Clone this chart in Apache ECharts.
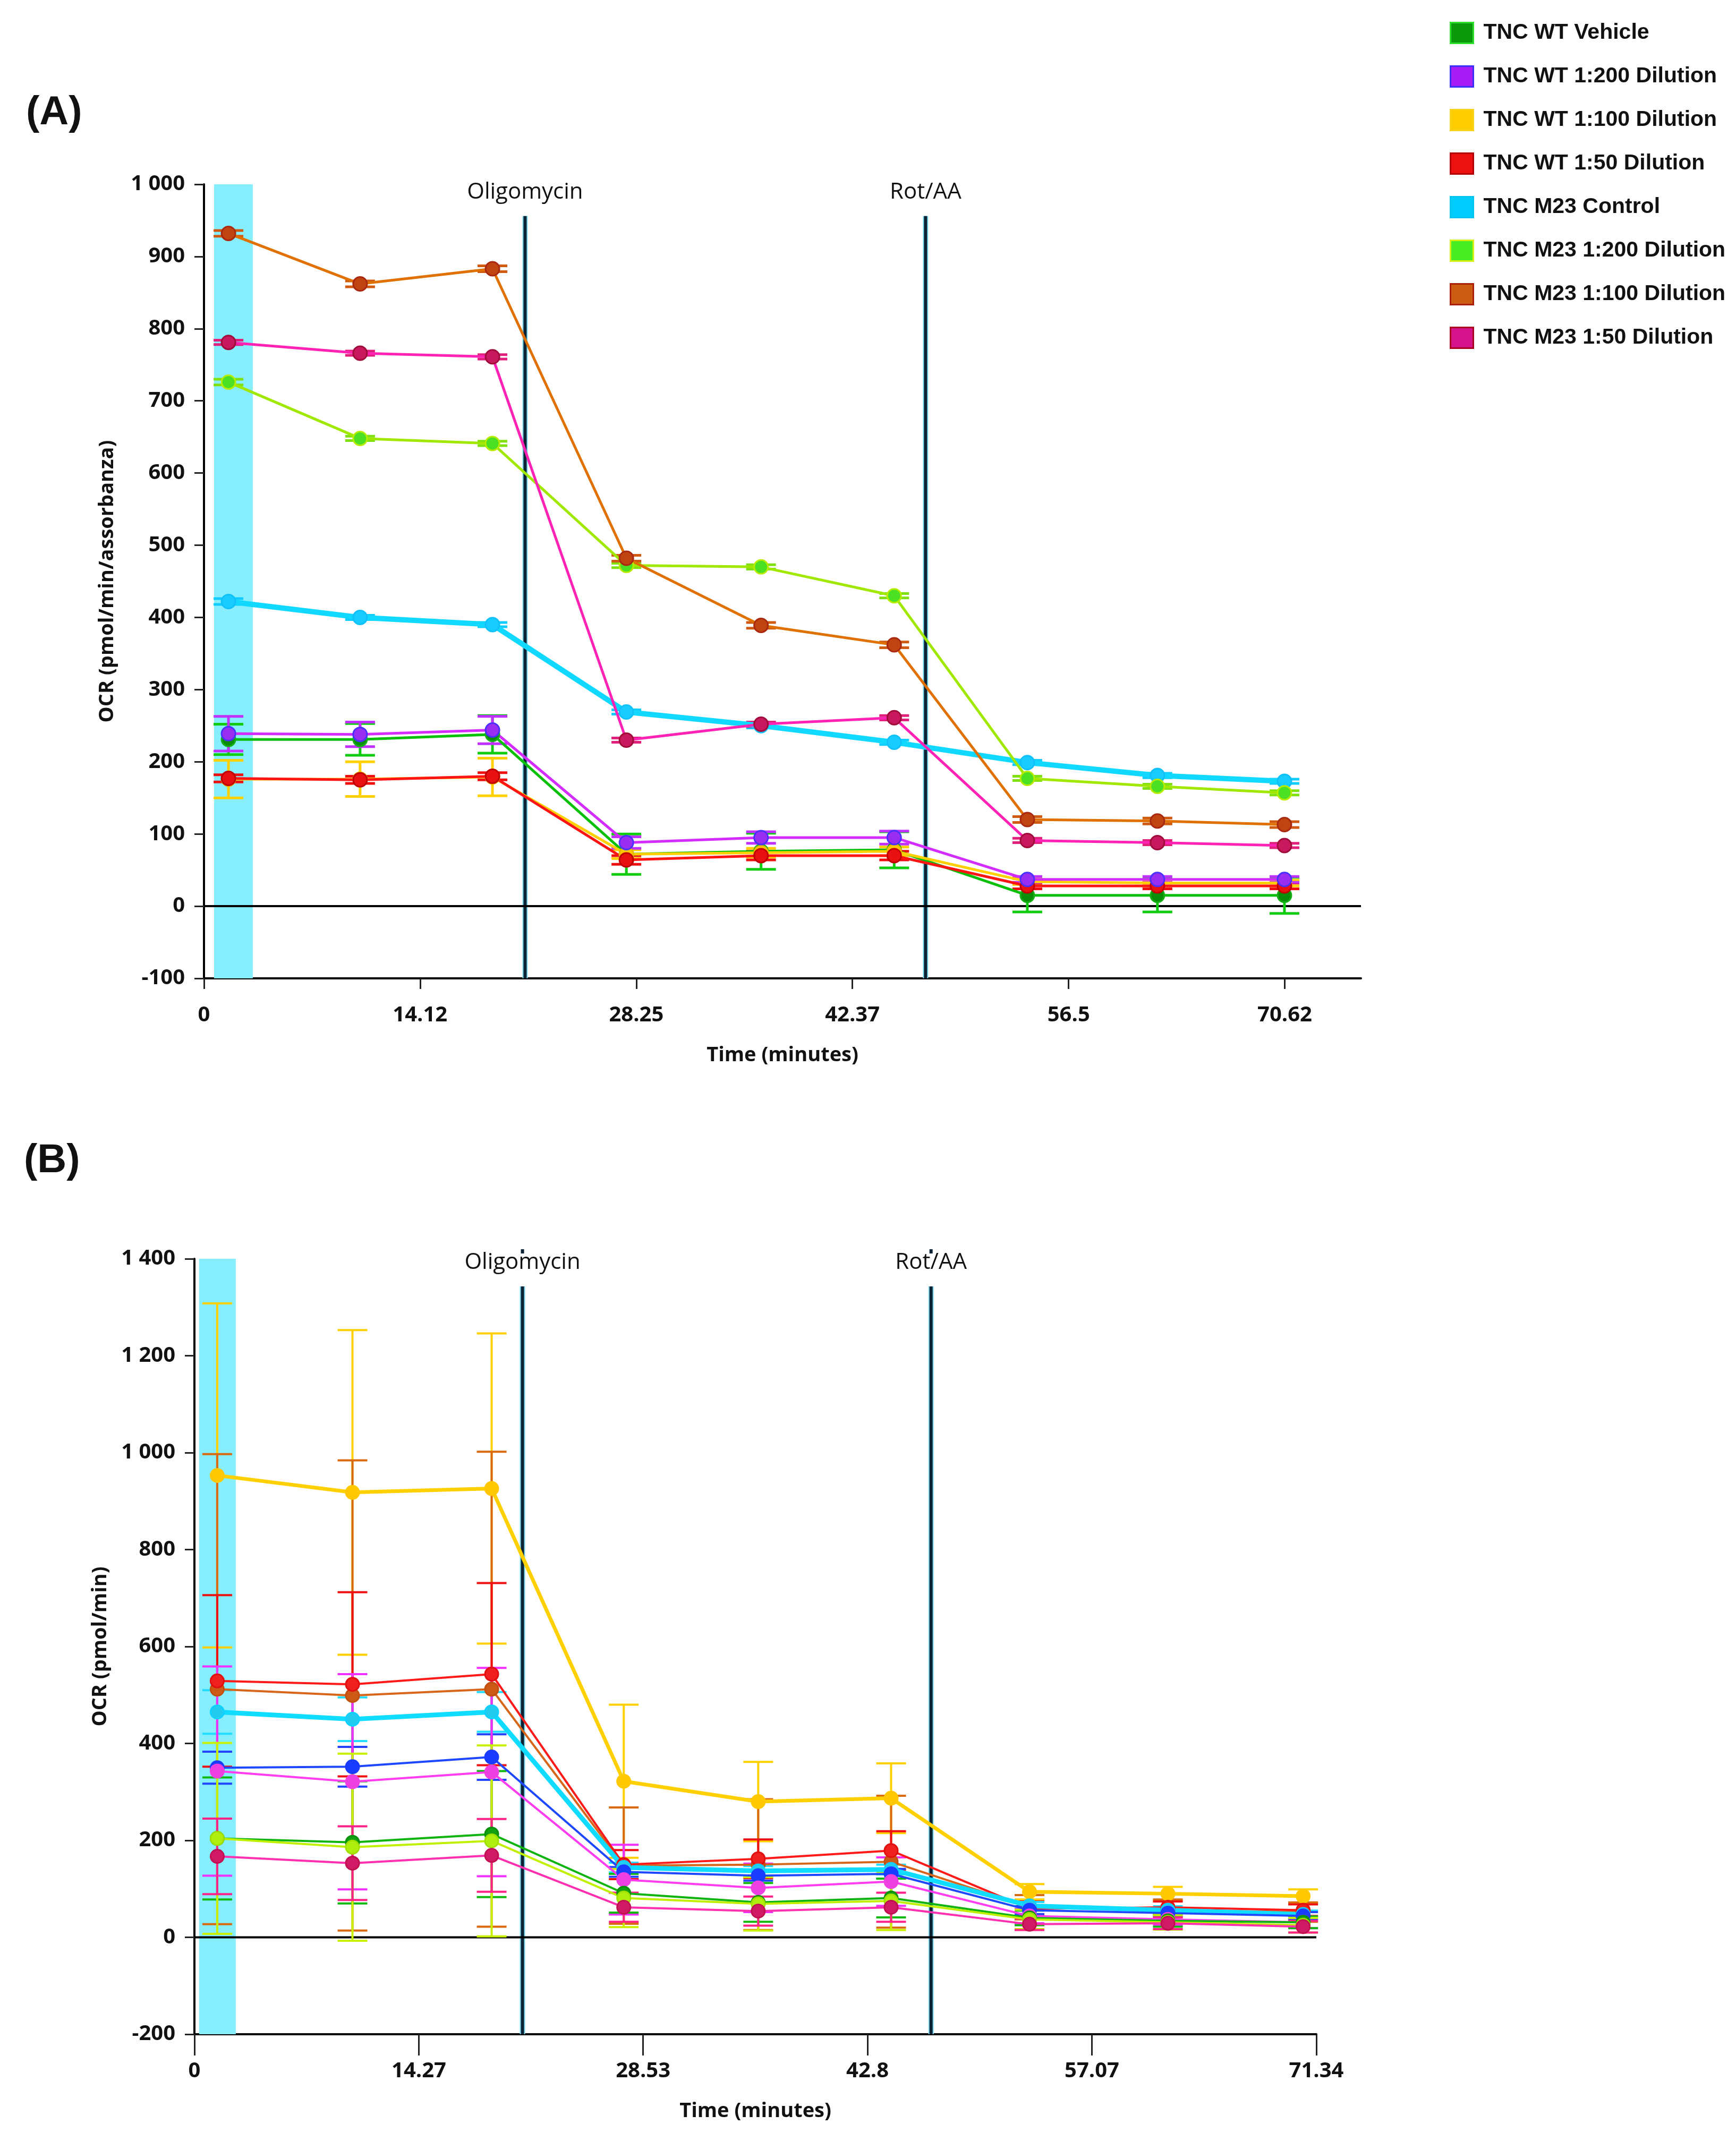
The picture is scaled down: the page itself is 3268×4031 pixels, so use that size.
<!DOCTYPE html>
<html><head><meta charset="utf-8">
<script src="https://cdn.jsdelivr.net/npm/echarts@6/dist/echarts.min.js"></script>
<style>html,body{margin:0;padding:0;background:#fff}#c{width:3268px;height:4031px}</style>
</head><body><div id="c"></div>
<script>
// ---------- DATA ----------
const seriesNames = ['TNC WT Vehicle','TNC WT 1:200 Dilution','TNC WT 1:100 Dilution','TNC WT 1:50 Dilution','TNC M23 Control','TNC M23 1:200 Dilution','TNC M23 1:100 Dilution','TNC M23 1:50 Dilution'];

const xTicksA = [0, 14.12, 28.25, 42.37, 56.5, 70.62];
const xTicksB = [0, 14.27, 28.53, 42.8, 57.07, 71.34];

const injLabels = ['Oligomycin', 'Rot/AA'];
const injTimesA = [20.98, 47.15];
const injTimesB = [20.86, 46.84];
const injTopA = 956;
const injTopB = 1343;
const bandA = [0.66, 3.19];
const bandB = [0.3, 2.63];

// Panel A
const timeA = [1.6, 10.2, 18.85, 27.6, 36.4, 45.1, 53.8, 62.3, 70.6];
const A_wtVehicle    = [231, 231, 238, 72, 76, 78, 15, 15, 15];
const A_wtVehicle_sd = [21, 22, 26, 28, 25, 25, 23, 23, 25];
const A_wt200        = [239, 238, 244, 88, 95, 95, 37, 37, 37];
const A_wt200_sd     = [24, 17, 19, 8, 8, 9, 4, 4, 4];
const A_wt100        = [176, 176, 179, 72, 74, 76, 34, 32, 32];
const A_wt100_sd     = [26, 24, 26, 6, 6, 6, 4, 4, 4];
const A_wt50         = [177, 175, 180, 64, 70, 70, 28, 28, 28];
const A_wt50_sd      = [5, 5, 5, 6, 6, 6, 4, 4, 4];
const A_m23ctrl      = [422, 400, 390, 269, 250, 227, 199, 181, 173];
const A_m23ctrl_sd   = [4, 3, 3, 3, 3, 3, 3, 3, 3];
const A_m23_200      = [726, 648, 641, 472, 470, 430, 177, 166, 157];
const A_m23_200_sd   = [4, 3, 3, 3, 3, 3, 3, 3, 3];
const A_m23_100      = [932, 862, 883, 482, 389, 362, 120, 118, 113];
const A_m23_100_sd   = [4, 4, 4, 4, 4, 4, 4, 4, 4];
const A_m23_50       = [781, 766, 761, 230, 252, 261, 91, 88, 84];
const A_m23_50_sd    = [3, 3, 3, 3, 3, 3, 3, 3, 3];

// Panel B
const timeB = [1.45, 10.05, 18.9, 27.3, 35.85, 44.3, 53.1, 61.9, 70.5];
const B_wt100        = [953, 918, 926, 322, 280, 287, 94, 90, 85];
const B_wt100_sd     = [355, 335, 320, 158, 82, 72, 16, 14, 14];
const B_m23_100      = [512, 499, 512, 148, 150, 156, 62, 56, 52];
const B_m23_100_sd   = [485, 485, 490, 120, 135, 136, 25, 22, 20];
const B_wt50         = [529, 522, 543, 150, 162, 179, 59, 62, 56];
const B_wt50_sd      = [177, 190, 188, 30, 40, 40, 15, 12, 12];
const B_m23ctrl      = [465, 450, 465, 144, 137, 140, 65, 56, 47];
const B_m23ctrl_sd   = [45, 45, 41, 10, 10, 10, 8, 8, 8];
const B_extra        = [350, 352, 372, 135, 127, 131, 56, 50, 44];
const B_extra_sd     = [33, 41, 47, 10, 10, 10, 8, 8, 8];
const B_wt200        = [343, 321, 341, 119, 102, 115, 44, 37, 31];
const B_wt200_sd     = [216, 222, 215, 72, 50, 50, 15, 12, 12];
const B_wtVehicle    = [204, 196, 213, 91, 72, 81, 40, 34, 31];
const B_wtVehicle_sd = [126, 126, 130, 40, 40, 40, 15, 12, 12];
const B_m23_200      = [204, 186, 199, 81, 69, 75, 37, 31, 25];
const B_m23_200_sd   = [197, 193, 197, 60, 55, 60, 20, 15, 15];
const B_m23_50       = [167, 153, 169, 62, 54, 62, 27, 29, 22];
const B_m23_50_sd    = [78, 76, 75, 30, 30, 30, 12, 12, 12];

// ---------- STYLES ----------
const legendFill   = ['#0b990b','#a51cf5','#ffcc00','#ee1111','#00ccff','#48ec22','#cc5c12','#d6128a'];
const legendBorder = ['#2ae02a','#3a30ff','#ffd21a','#b20000','#00c4f4','#d8ee10','#a82000','#a8001e'];

const stA = {
  'TNC WT Vehicle':         {line:'#08c008', marker:'#0a8e0a', border:'#16b016', err:'#12cc12', lw:5},
  'TNC WT 1:200 Dilution':  {line:'#d22cff', marker:'#9a2ef0', border:'#4a30ff', err:'#c030ff', lw:5},
  'TNC WT 1:100 Dilution':  {line:'#ffd000', marker:'#ffc800', border:'#f0b800', err:'#ffd000', lw:5},
  'TNC WT 1:50 Dilution':   {line:'#ff1414', marker:'#e81010', border:'#c00000', err:'#ee1010', lw:5},
  'TNC M23 Control':        {line:'#10d8ff', marker:'#18ccff', border:'#10c0f8', err:'#10ccff', lw:10},
  'TNC M23 1:200 Dilution': {line:'#a0e800', marker:'#4ce024', border:'#b8ec00', err:'#80e010', lw:5},
  'TNC M23 1:100 Dilution': {line:'#e07000', marker:'#c04412', border:'#a82810', err:'#d05a10', lw:5},
  'TNC M23 1:50 Dilution':  {line:'#ff22b4', marker:'#c8185e', border:'#a00c3a', err:'#e0207a', lw:5}
};
const stB = {
  'TNC WT 1:100 Dilution':  {line:'#ffd000', marker:'#ffc800', border:'#ffc800', err:'#ffd000', lw:7},
  'TNC M23 1:100 Dilution': {line:'#d8661a', marker:'#cc5a16', border:'#c05010', err:'#d86a10', lw:4},
  'TNC WT 1:50 Dilution':   {line:'#ff1a1a', marker:'#ee2020', border:'#e01010', err:'#ee1111', lw:4},
  'TNC M23 Control':        {line:'#10dcff', marker:'#22ccee', border:'#10d0ff', err:'#22ddff', lw:9},
  'extra':                  {line:'#1e48ff', marker:'#1a3cff', border:'#1a3cff', err:'#2244ff', lw:4},
  'TNC WT 1:200 Dilution':  {line:'#ff3cf0', marker:'#ee40e0', border:'#ee40e0', err:'#f030ff', lw:4},
  'TNC WT Vehicle':         {line:'#10b410', marker:'#12a012', border:'#0a900a', err:'#10b810', lw:4},
  'TNC M23 1:200 Dilution': {line:'#c0f000', marker:'#b0ee10', border:'#a0e000', err:'#c8f000', lw:4},
  'TNC M23 1:50 Dilution':  {line:'#ff30b0', marker:'#d01a66', border:'#c01050', err:'#ff2288', lw:4}
};

const FONT = "'Open Sans', 'DejaVu Sans', sans-serif";

// ---------- RENDER HELPERS ----------
function errRender(width, cap) {
  return function (params, api) {
    const x = api.value(0), lo = api.value(1), hi = api.value(2);
    const p1 = api.coord([x, lo]), p2 = api.coord([x, hi]);
    const st = {stroke: api.visual('color'), lineWidth: width};
    return {type: 'group', children: [
      {type: 'line', shape: {x1: p1[0], y1: p1[1], x2: p2[0], y2: p2[1]}, style: st},
      {type: 'line', shape: {x1: p1[0] - cap, y1: p1[1], x2: p1[0] + cap, y2: p1[1]}, style: st},
      {type: 'line', shape: {x1: p2[0] - cap, y1: p2[1], x2: p2[0] + cap, y2: p2[1]}, style: st}
    ]};
  };
}
function bandSeries(gi, band) {
  return {type: 'custom', xAxisIndex: gi, yAxisIndex: gi, z: 1, silent: true,
    data: [[band[0], band[1]]],
    renderItem: function (params, api) {
      const cs = params.coordSys;
      const a = api.coord([api.value(0), 0]), b = api.coord([api.value(1), 0]);
      return {type: 'rect', shape: {x: a[0], y: cs.y, width: b[0] - a[0], height: cs.height},
        style: {fill: '#86eefc'}};
    }};
}
function zeroSeries(gi) {
  return {type: 'custom', xAxisIndex: gi, yAxisIndex: gi, z: 3, silent: true,
    data: [[0]],
    renderItem: function (params, api) {
      const cs = params.coordSys;
      const p = api.coord([0, api.value(0)]);
      return {type: 'line', shape: {x1: cs.x, y1: p[1], x2: cs.x + cs.width, y2: p[1]},
        style: {stroke: '#000', lineWidth: 4}};
    }};
}
function injSeries(gi, times, top, withDot) {
  return {type: 'custom', xAxisIndex: gi, yAxisIndex: gi, z: 2, silent: true,
    data: times.map(t => [t, top]),
    renderItem: function (params, api) {
      const cs = params.coordSys;
      const p = api.coord([api.value(0), api.value(1)]);
      const yb = cs.y + cs.height;
      const ch = [
        {type: 'line', shape: {x1: p[0], y1: p[1], x2: p[0], y2: yb}, style: {stroke: '#7fdcf0', lineWidth: 10}},
        {type: 'line', shape: {x1: p[0], y1: p[1], x2: p[0], y2: yb}, style: {stroke: '#0c2336', lineWidth: 6}},
        {type: 'text', x: p[0], y: p[1] - 45, style: {text: injLabels[params.dataIndex], fill: '#111',
          font: "42px 'Open Sans', sans-serif", align: 'center', verticalAlign: 'middle'}}
      ];
      if (withDot) {
        ch.push({type: 'line', shape: {x1: p[0], y1: cs.y - 18, x2: p[0], y2: cs.y - 10}, style: {stroke: '#0c2336', lineWidth: 6}});
      }
      return {type: 'group', children: ch};
    }};
}
function panelSeries(gi, time, list, styles, errW, cap, symSize) {
  const out = [];
  list.forEach(function (s) {
    const st = styles[s.key];
    out.push({type: 'custom', name: s.name, xAxisIndex: gi, yAxisIndex: gi, z: 4, silent: true,
      itemStyle: {color: st.err},
      data: time.map((t, i) => [t, s.v[i] - s.e[i], s.v[i] + s.e[i]]),
      renderItem: errRender(errW, cap)});
  });
  list.forEach(function (s) {
    const st = styles[s.key];
    out.push({type: 'line', name: s.name, xAxisIndex: gi, yAxisIndex: gi, z: 5,
      symbol: 'circle', symbolSize: symSize, showSymbol: true,
      lineStyle: {color: st.line, width: st.lw},
      itemStyle: {color: st.marker, borderColor: st.border, borderWidth: 3},
      data: time.map((t, i) => [t, s.v[i]])});
  });
  return out;
}

const listA = [
  {name: seriesNames[0], key: seriesNames[0], v: A_wtVehicle, e: A_wtVehicle_sd},
  {name: seriesNames[2], key: seriesNames[2], v: A_wt100, e: A_wt100_sd},
  {name: seriesNames[3], key: seriesNames[3], v: A_wt50, e: A_wt50_sd},
  {name: seriesNames[1], key: seriesNames[1], v: A_wt200, e: A_wt200_sd},
  {name: seriesNames[4], key: seriesNames[4], v: A_m23ctrl, e: A_m23ctrl_sd},
  {name: seriesNames[5], key: seriesNames[5], v: A_m23_200, e: A_m23_200_sd},
  {name: seriesNames[6], key: seriesNames[6], v: A_m23_100, e: A_m23_100_sd},
  {name: seriesNames[7], key: seriesNames[7], v: A_m23_50, e: A_m23_50_sd}
];
const listB = [
  {name: seriesNames[2], key: seriesNames[2], v: B_wt100, e: B_wt100_sd},
  {name: seriesNames[6], key: seriesNames[6], v: B_m23_100, e: B_m23_100_sd},
  {name: seriesNames[3], key: seriesNames[3], v: B_wt50, e: B_wt50_sd},
  {name: seriesNames[4], key: seriesNames[4], v: B_m23ctrl, e: B_m23ctrl_sd},
  {name: 'B9', key: 'extra', v: B_extra, e: B_extra_sd},
  {name: seriesNames[1], key: seriesNames[1], v: B_wt200, e: B_wt200_sd},
  {name: seriesNames[0], key: seriesNames[0], v: B_wtVehicle, e: B_wtVehicle_sd},
  {name: seriesNames[5], key: seriesNames[5], v: B_m23_200, e: B_m23_200_sd},
  {name: seriesNames[7], key: seriesNames[7], v: B_m23_50, e: B_m23_50_sd}
];

function yFmt(v) {
  const a = Math.abs(v);
  const s = a >= 1000 ? Math.floor(a / 1000) + ' ' + String(a % 1000).padStart(3, '0') : String(a);
  return (v < 0 ? '-' : '') + s;
}
const axisLabelStyle = {color: '#111', fontFamily: FONT, fontWeight: 'bold', fontSize: 40};
const nameStyle = {color: '#111', fontFamily: FONT, fontWeight: 'bold', fontSize: 38};

function xAxis(gi, max, ticks, tickLen, margin) {
  return {type: 'value', gridIndex: gi, min: 0, max: max,
    axisLine: {onZero: false, lineStyle: {color: '#000', width: 4}},
    axisTick: {customValues: ticks, length: tickLen, lineStyle: {color: '#222', width: 3}},
    axisLabel: {customValues: ticks, margin: margin, ...axisLabelStyle, formatter: v => String(v)},
    splitLine: {show: false},
    name: 'Time (minutes)', nameLocation: 'middle', nameGap: 126, nameTextStyle: nameStyle};
}
function yAxis(gi, min, max, interval, name, gap) {
  return {type: 'value', gridIndex: gi, min: min, max: max, interval: interval,
    axisLine: {show: true, onZero: false, lineStyle: {color: '#000', width: 4}},
    axisTick: {show: true, length: 18, lineStyle: {color: '#222', width: 3}},
    axisLabel: {margin: 36, ...axisLabelStyle, formatter: yFmt},
    splitLine: {show: false},
    name: name, nameLocation: 'middle', nameGap: gap, nameTextStyle: nameStyle};
}

const option = {
  animation: false,
  backgroundColor: '#fff',
  title: [
    {text: '(A)', left: 44, top: 170, textStyle: {fontFamily: "'Liberation Sans', Arial, sans-serif", fontWeight: 'bold', fontSize: 76, color: '#111'}},
    {text: '(B)', left: 40, top: 2143, textStyle: {fontFamily: "'Liberation Sans', Arial, sans-serif", fontWeight: 'bold', fontSize: 76, color: '#111'}}
  ],
  legend: {orient: 'vertical', left: 2724, top: 36, itemWidth: 43, itemHeight: 39, itemGap: 40,
    icon: 'rect', selectedMode: false,
    textStyle: {fontFamily: "'Liberation Sans', Arial, sans-serif", fontWeight: 'bold', fontSize: 41, color: '#111', padding: [0, 0, 0, 14]},
    data: seriesNames.map((n, i) => ({name: n, itemStyle: {color: legendFill[i], borderColor: legendBorder[i], borderWidth: 3}}))},
  grid: [
    {left: 384, top: 347, width: 2178, height: 1495},
    {left: 366, top: 2370, width: 2112, height: 1460}
  ],
  xAxis: [xAxis(0, 75.6, xTicksA, 20, 50), xAxis(1, 71.34, xTicksB, 40, 50)],
  yAxis: [yAxis(0, -100, 1000, 100, 'OCR (pmol/min/assorbanza)', 163),
          yAxis(1, -200, 1400, 200, 'OCR (pmol/min)', 158)],
  series: [
    bandSeries(0, bandA), injSeries(0, injTimesA, injTopA, false), zeroSeries(0),
    ...panelSeries(0, timeA, listA, stA, 5, 28, 26),
    bandSeries(1, bandB), injSeries(1, injTimesB, injTopB, true), zeroSeries(1),
    ...panelSeries(1, timeB, listB, stB, 4, 28, 25)
  ]
};
const chart = echarts.init(document.getElementById('c'), null, {renderer: 'canvas'});
chart.setOption(option);
</script></body></html>
